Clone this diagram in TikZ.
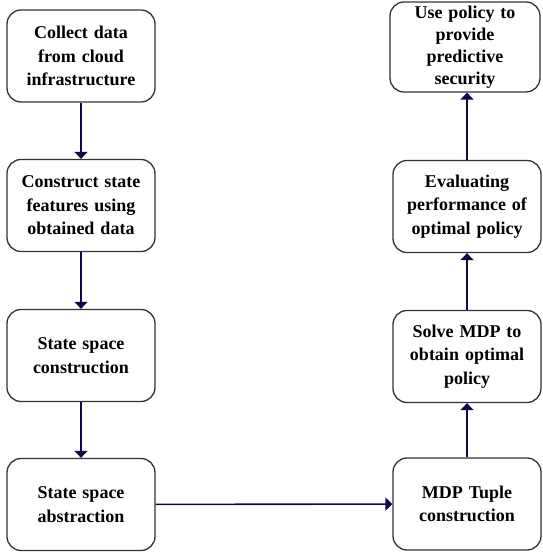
\documentclass[tikz,border=0pt]{standalone}
\usepackage{fontspec}
\setmainfont{Liberation Serif}
\usetikzlibrary{arrows.meta}
\definecolor{navyline}{HTML}{0B0B48}
\begin{document}
\begin{tikzpicture}[x=1pt, y=1pt, flow-node/.style={ rectangle, rounded corners=14pt, draw=black!80, line width=1.3pt, minimum width=148pt, minimum height=92pt, text width=140pt, align=center, inner sep=0pt, font=\fontsize{18}{23.5}\selectfont\bfseries, }, flow-arrow/.style={ draw=navyline, line width=1.6pt, -{Triangle[width=13pt,length=7pt]}, } ]
            \useasboundingbox (0, 0) rectangle (542, 554);
            \node[flow-node] (C) at (81, 498) {Collect data\\from cloud\\infrastructure};
            \node[flow-node] (F) at (81, 348.5) {Construct state\\features using\\obtained data};
            \node[flow-node] (S) at (81, 198.5) {State space\\construction};
            \node[flow-node] (A) at (81, 49.5) {State space\\abstraction};
            \node[flow-node] (T) at (467, 50) {MDP Tuple\\construction};
            \node[flow-node] (M) at (467, 197.5) {Solve MDP to\\obtain optimal\\policy};
            \node[flow-node] (E) at (467, 347.5) {Evaluating\\performance of\\optimal policy};
            \node[flow-node, minimum width=150pt, minimum height=90pt, font=\fontsize{18}{22}\selectfont\bfseries] (U) at (465, 507) {Use policy to\\provide\\predictive\\security};

            % Edges
            \draw[flow-arrow] (C) -- (F);
            \draw[flow-arrow] (F) -- (S);
            \draw[flow-arrow] (S) -- (A);
            \draw[flow-arrow] (A) -- (T);
            \draw[flow-arrow] (T) -- (M);
            \draw[flow-arrow] (M) -- (E);
            \draw[flow-arrow] (E.north) -- (E.north |- U.south);
        \end{tikzpicture}
\end{document}
